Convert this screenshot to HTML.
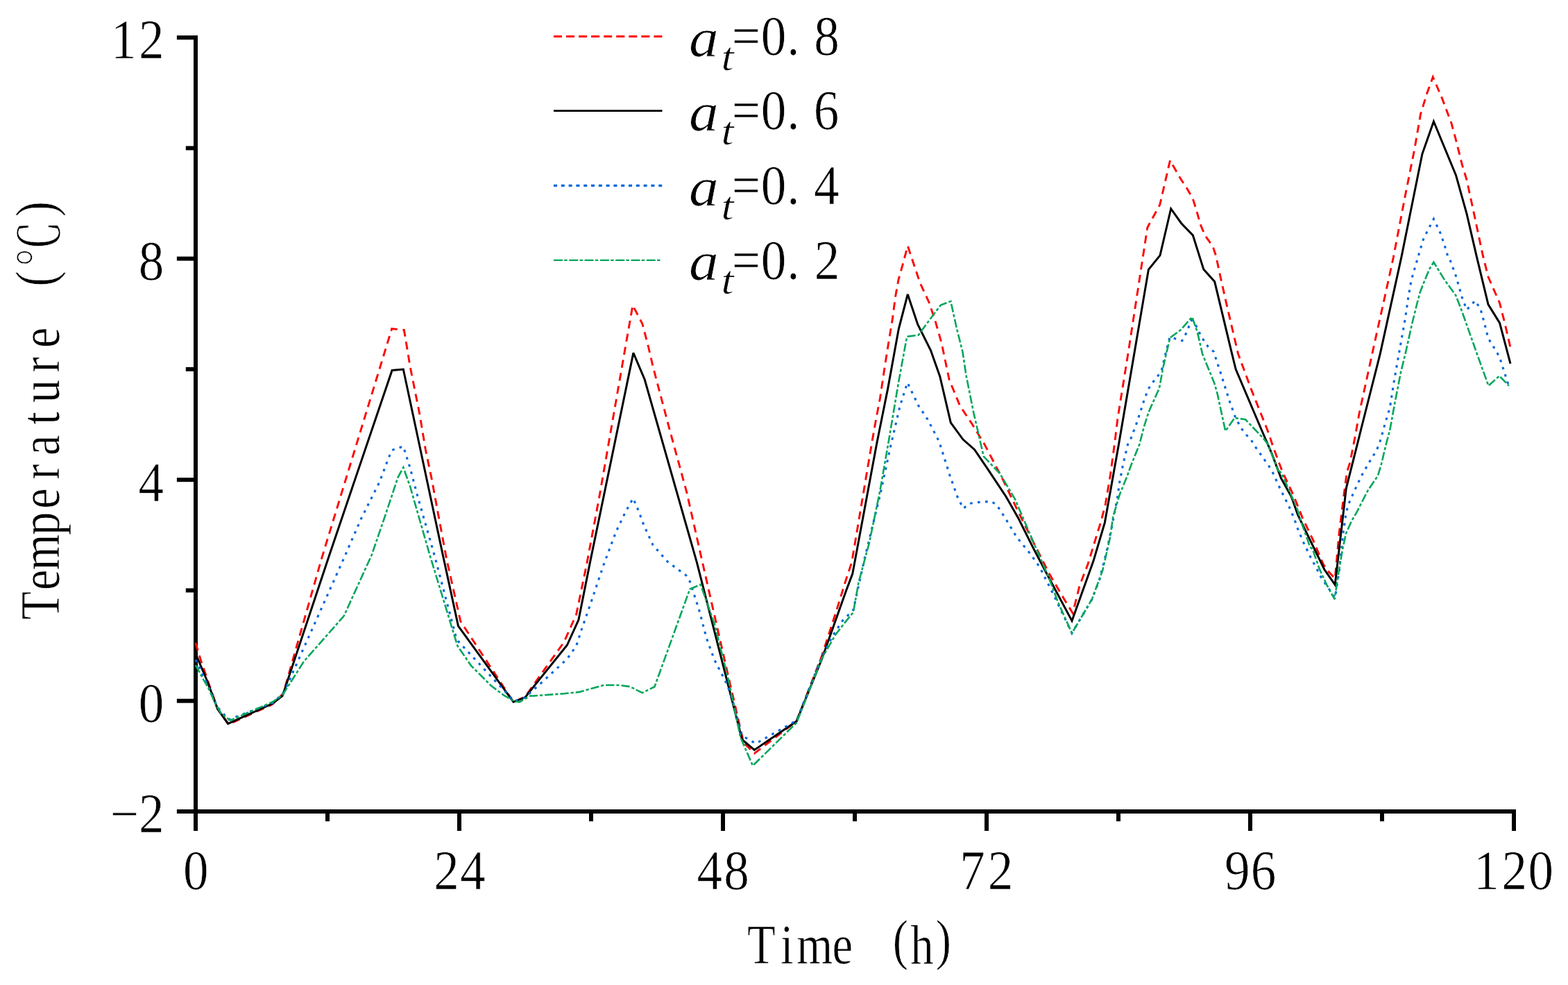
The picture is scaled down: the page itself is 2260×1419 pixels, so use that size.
<!DOCTYPE html>
<html lang="en"><head><meta charset="utf-8"><title>Temperature (℃) – Time (h)</title>
<style>html,body{margin:0;padding:0;background:#fff}body{width:2260px;height:1419px;overflow:hidden}svg{display:block}text{fill:#000;white-space:pre;stroke:#fff;stroke-width:0.7px;stroke-linejoin:round}</style></head><body>
<svg width="2260" height="1419" viewBox="0 0 2260 1419" font-family="&quot;Liberation Serif&quot;, &quot;Noto Serif CJK SC&quot;, serif">
<rect width="2260" height="1419" fill="#fff"/>
<g><text transform="scale(0.92 1)" x="174 217.5" y="84.5" font-size="79.5" aria-label="12">12</text>
<text transform="scale(0.92 1)" x="217.1" y="403" font-size="79.5" aria-label="8">8</text>
<text transform="scale(0.92 1)" x="216.9" y="721.6" font-size="79.5" aria-label="4">4</text>
<text transform="scale(0.92 1)" x="217.1" y="1040.1" font-size="79.5" aria-label="0">0</text>
<text transform="scale(0.92 1)" x="172.5 217.5" y="1199.4" font-size="79.5" aria-label="−2">−2</text>
<text transform="scale(0.92 1)" x="287" y="1280.8" font-size="79.5" aria-label="0">0</text>
<text transform="scale(0.92 1)" x="679.5 720.8" y="1280.8" font-size="79.5" aria-label="24">24</text>
<text transform="scale(0.92 1)" x="1091.9 1134" y="1280.8" font-size="79.5" aria-label="48">48</text>
<text transform="scale(0.92 1)" x="1503.6 1547.5" y="1280.8" font-size="79.5" aria-label="72">72</text>
<text transform="scale(0.92 1)" x="1918.5 1959.6" y="1280.8" font-size="79.5" aria-label="96">96</text>
<text transform="scale(0.92 1)" x="2309.1 2352.6 2394.1" y="1280.8" font-size="79.5" aria-label="120">120</text></g>
<text transform="scale(0.84 1)" x="1282 1339.4 1367.1 1428.1 1467.1 1531.9 1562.3 1605.7" y="1387.8 1387.8 1387.8 1387.8 1387.8 1380.8 1387.8 1380.8" font-size="79.5" aria-label="Time (h)">Time (h)</text>
<g transform="translate(84.9 891.7) rotate(-90)"><text transform="scale(0.84 1)" x="-1.4 49.3 83.7 143.7 189 239.1 280.2 333.4 370.9 422.9 464.7 505.5 570.3 603.6 689.9" y="0 0 0 0 0 0 0 0 0 0 0 0 -7 0 -7" font-size="79.5" aria-label="Temperature (℃)">Temperature (℃)</text></g>
<g><path d="M798 52.4 H954.5" fill="none" stroke="#ff0000" stroke-width="3" stroke-dasharray="12 6.05"/>
<text transform="scale(0.92 1)" font-size="79.5" aria-label="a t =0.8"><tspan x="1079.3" y="80.7" font-style="italic" font-size="79" textLength="46.4" lengthAdjust="spacingAndGlyphs">a</tspan><tspan x="1129.9" y="100.7" font-style="italic" font-size="57" textLength="19.8" lengthAdjust="spacingAndGlyphs">t</tspan><tspan y="79.2" x="1146.5 1192.1 1233 1275.2">=0.8</tspan></text>
<path d="M798 159.6 H954.5" fill="none" stroke="#000000" stroke-width="2.8"/>
<text transform="scale(0.92 1)" font-size="79.5" aria-label="a t =0.6"><tspan x="1079.3" y="187.9" font-style="italic" font-size="79" textLength="46.4" lengthAdjust="spacingAndGlyphs">a</tspan><tspan x="1129.9" y="207.9" font-style="italic" font-size="57" textLength="19.8" lengthAdjust="spacingAndGlyphs">t</tspan><tspan y="186.4" x="1146.5 1192.1 1233 1274.7">=0.6</tspan></text>
<path d="M798 267.4 H954.5" fill="none" stroke="#0066dd" stroke-width="3.1" stroke-dasharray="5 5.8"/>
<text transform="scale(0.92 1)" font-size="79.5" aria-label="a t =0.4"><tspan x="1079.3" y="295.7" font-style="italic" font-size="79" textLength="46.4" lengthAdjust="spacingAndGlyphs">a</tspan><tspan x="1129.9" y="315.7" font-style="italic" font-size="57" textLength="19.8" lengthAdjust="spacingAndGlyphs">t</tspan><tspan y="294.2" x="1146.5 1192.1 1233 1275.1">=0.4</tspan></text>
<path d="M798 374.9 H952.2" fill="none" stroke="#00a65a" stroke-width="2.2" stroke-dasharray="13 2.2 4.5 2.6"/>
<text transform="scale(0.92 1)" font-size="79.5" aria-label="a t =0.2"><tspan x="1079.3" y="403.2" font-style="italic" font-size="79" textLength="46.4" lengthAdjust="spacingAndGlyphs">a</tspan><tspan x="1129.9" y="423.2" font-style="italic" font-size="57" textLength="19.8" lengthAdjust="spacingAndGlyphs">t</tspan><tspan y="401.7" x="1146.5 1192.1 1233 1275.7">=0.2</tspan></text></g>
<g stroke="#000" stroke-width="6.0" fill="none" stroke-linecap="butt"><path d="M282.0 51.1 V1197.0" /><path d="M254.9 1169.0 H2185.0" /><path d="M254.9 54.1 H282.0"/><path d="M254.9 372.6 H282.0"/><path d="M254.9 691.2 H282.0"/><path d="M254.9 1009.7 H282.0"/><path d="M267.8 213.4 H282.0"/><path d="M267.8 531.9 H282.0"/><path d="M267.8 850.5 H282.0"/><path d="M662.0 1169.0 V1197.0"/><path d="M1042.0 1169.0 V1197.0"/><path d="M1422.0 1169.0 V1197.0"/><path d="M1802.0 1169.0 V1197.0"/><path d="M2182.0 1169.0 V1197.0"/><path d="M472.0 1169.0 V1183.2"/><path d="M852.0 1169.0 V1183.2"/><path d="M1232.0 1169.0 V1183.2"/><path d="M1612.0 1169.0 V1183.2"/><path d="M1992.0 1169.0 V1183.2"/></g>
<g stroke-linejoin="miter" stroke-miterlimit="3"><path d="M281.9 926.1 L289.9 952.7 L313.6 1021.2 L329.7 1043.4 L392.8 1014.6 L408.3 999.1 L463.6 804.4 L564.7 473.6 L582.4 475.4 L591.2 528.5 L604.5 594.9 L613.4 648 L622.2 690 L632.2 744.2 L643.9 806.6 L663.8 895.1 L740 1011.3 L756.9 1003.6 L812.9 925 L830.6 885.2 L846.1 810.4 L864.9 709.7 L901.4 500 L912 439.8 L925.8 466.4 L934.6 500 L941.2 528.3 L963.4 612.4 L989.9 709.7 L1011.5 806 L1049.6 973.7 L1071.8 1070 L1087.3 1085.4 L1148.1 1039 L1184.4 945.3 L1204.5 883 L1219.9 833.4 L1227.6 810.4 L1256.3 639.9 L1263 602.1 L1268.5 573.4 L1275.1 529.1 L1280.7 493.7 L1286.2 460.5 L1290.6 427.3 L1295 403 L1300.6 383.1 L1308.3 354.3 L1326 407.4 L1339.3 436.2 L1348.1 462.7 L1357 493.7 L1368.1 546.8 L1383.5 584.4 L1401.2 611 L1418.9 639.9 L1445.5 690.9 L1467.6 737.3 L1489.7 781.6 L1511.9 825.8 L1534 863.5 L1546.2 883.4 L1556.1 843.5 L1568 812.8 L1582.1 766.6 L1587.1 750.6 L1593.2 726.8 L1600.4 684.2 L1606.4 639.9 L1610.9 602.9 L1626.4 506.5 L1653.8 327.8 L1671.7 295.1 L1686.5 231 L1692.7 242 L1701.6 257.5 L1710.4 270.8 L1719.3 286.3 L1724.8 304 L1730.4 323.9 L1737 339.4 L1748.1 354.9 L1752.5 368.1 L1759.1 399.1 L1768 438.9 L1776.8 476.5 L1784.6 509.9 L1803.4 560.9 L1825.5 616.2 L1828.6 624.4 L1835.2 644.3 L1848.1 678.9 L1864 712.9 L1869.7 726.8 L1877.3 746.1 L1892.3 777.4 L1907.2 812.8 L1914.9 823.5 L1924.2 833.5 L1930.4 766 L1937 712.9 L1941.4 679.7 L1945.8 666.5 L1953.6 626.6 L1959.1 595.7 L1981.2 493.9 L1994.5 434.2 L2008.3 371 L2025.5 281.2 L2038.8 214.9 L2047.6 164 L2056.5 135.2 L2065.3 110.9 L2078.6 141.9 L2091.9 177.3 L2098.5 201.6 L2107.3 237 L2114 259.1 L2125 310 L2137.2 367.7 L2145 398.8 L2161.5 436.4 L2169.3 467.3 L2177 500.5" fill="none" stroke="#ff0000" stroke-width="2.9" stroke-dasharray="11.4 7.7"/>
<path d="M281.9 941.6 L297.9 979.2 L313.6 1021.2 L328.6 1042.7 L392.8 1013.5 L407.2 1002.4 L474.6 800 L565.1 533.4 L581.3 532 L627.7 749.7 L638.4 800 L660.5 901.8 L740 1011.3 L756.9 1004.7 L770 988.1 L817.3 929.5 L833.9 893 L850.5 809.9 L912.9 508.4 L929.1 546.5 L1004.3 809.9 L1069.6 1065.5 L1087.3 1080.4 L1148.1 1039 L1184.4 949.7 L1220 849.8 L1228.7 826.9 L1263.5 639.9 L1279.6 560.1 L1295.3 473.8 L1308.3 424 L1322.7 467.2 L1341.5 504.8 L1354.8 542.4 L1370.3 608.8 L1388 633.1 L1404.6 647.7 L1423.4 675.4 L1449.9 715.2 L1467.6 746.2 L1489.7 790.4 L1511.9 832.5 L1545 894.4 L1576 808.1 L1592.3 753.1 L1612.5 639.9 L1634.7 509.9 L1655.4 388.3 L1672 367.9 L1687.7 300.7 L1702.7 321.7 L1719.3 338.9 L1734.8 388.1 L1750.7 405.8 L1775.7 509.9 L1781.2 532.1 L1818.6 620 L1833 653.2 L1846.4 688.9 L1861.3 715.4 L1870.6 741.7 L1908.9 820.5 L1924.2 842.3 L1940.3 703.3 L1955.8 642.1 L1961.3 620 L1989.2 509.9 L2020 369.9 L2049.9 221.8 L2066.4 175 L2098.5 252.5 L2114 307.8 L2128.4 369.9 L2145 438.6 L2161.5 465.1 L2177 523.8" fill="none" stroke="#000000" stroke-width="3"/>
<path d="M281.9 950.4 L297.7 983.6 L313.6 1019 L329.7 1036.7 L393.9 1012.4 L409.4 996.9 L494.6 806.6 L520.4 747.5 L547 694.4 L560.3 659 L565.1 648.4 L581.3 643.1 L591.2 674.5 L602.3 716.5 L611.2 747.5 L626.2 800 L657.2 917.3 L660.5 923.9 L741.1 1010.2 L756.9 1004.7 L786.4 978.1 L817.3 949.4 L830.6 930.6 L837.3 909.6 L852.7 865.3 L870.4 812.6 L888.1 765.5 L901.4 737.8 L912.5 717.9 L920.2 735.6 L928 756.6 L941.2 785.4 L962.3 809.3 L988.8 828.8 L994.3 837.7 L1007.6 878.6 L1018.7 920.6 L1029.7 950.5 L1047.4 984.8 L1054.1 1002.5 L1069.6 1060 L1089.5 1071.1 L1148.1 1037.9 L1184.5 946.2 L1200.1 916.2 L1214.4 894.2 L1229.8 878.9 L1246.4 803.7 L1268.5 713 L1284 641 L1297.3 584.4 L1307.9 551.2 L1323.8 584.4 L1337.1 604.3 L1352.6 634.2 L1355.9 643.3 L1369.2 685.4 L1380.2 716.3 L1388.4 732.5 L1397.9 725.2 L1410.1 723.6 L1428.9 722.3 L1436.6 727.4 L1448.8 746.2 L1465.4 773.8 L1485.3 798.2 L1498.6 817 L1518.5 856.8 L1545 912.1 L1573.8 863.5 L1584.9 834.7 L1595.9 790.4 L1603.4 754.2 L1610.6 716.6 L1613.6 695.3 L1618.9 667.9 L1625.5 640.3 L1629.1 634.2 L1638.8 608.1 L1649.9 573.8 L1655.1 560.9 L1659 553.5 L1666.2 545.4 L1674.2 533.9 L1679.6 511.1 L1686.1 485.4 L1703.8 490.9 L1710.4 478.8 L1717.1 461.1 L1725.9 472.1 L1730.4 483.2 L1741.4 499.8 L1749.2 506.4 L1752.5 516.6 L1759.1 536.5 L1772.4 578.6 L1781.2 602.9 L1790.1 618.4 L1796.5 626.6 L1803.4 633.9 L1809.8 644.3 L1816.6 653.8 L1828.6 670.9 L1834.3 680.4 L1843 699.6 L1847.6 709.1 L1858 729.8 L1866.2 749.4 L1869.7 760 L1877.9 779.6 L1887.2 799.2 L1891.9 808.7 L1897.4 817.5 L1901.6 828 L1924.2 861.2 L1930.4 821.3 L1935.9 768.2 L1940.1 739.5 L1943.6 726.2 L1952.5 706.3 L1961.8 686.4 L1966.9 677.5 L1972.4 667.6 L1983.5 649.9 L1987.9 639.9 L1991.2 628.8 L1996.7 608.9 L2003.4 586.8 L2010 544.8 L2019.1 493.9 L2025.5 458.5 L2029.9 427.5 L2034.3 403.2 L2044.3 368.8 L2052 343.2 L2066.4 315.5 L2076.4 336.5 L2083 356.5 L2086.3 367.5 L2090.8 376.6 L2098.5 397.7 L2107.3 428.6 L2114 446.3 L2126.2 433.1 L2133.9 445.2 L2139.4 465.1 L2145 487.3 L2156 505 L2161.5 514.9 L2168.2 535.9 L2175.9 560.3" fill="none" stroke="#0066dd" stroke-width="3.1" stroke-dasharray="3.6 7.4"/>
<path d="M281.9 958.2 L292.1 977 L301 992.5 L309.8 1012.4 L318.7 1027.9 L331.9 1037.8 L392.8 1011.3 L407.2 1001.3 L438.1 952.7 L495.7 887.4 L535.5 800 L553.6 747.5 L564.7 714.3 L573.5 687.8 L581.3 673.4 L591.2 701.1 L604.5 747.5 L619.6 800 L659.4 930.5 L679.3 959.3 L708.1 988.1 L725.8 1001.3 L741.2 1010.2 L748.8 1011.3 L764.2 1002.5 L770 1002.4 L812.9 999.2 L835 996.9 L870.4 987 L892.6 987 L908.1 989.2 L925.8 998.1 L943.5 989.2 L994.3 848.7 L1009.8 842.1 L1029.7 898.5 L1049.6 978.1 L1067.3 1062.2 L1085 1103.1 L1148.1 1041.2 L1184.5 948.5 L1204.3 914.3 L1220 894.1 L1229.8 882.3 L1237.5 839.1 L1253 781.6 L1268.5 706.4 L1280.1 639.9 L1295 551.2 L1307.2 484.9 L1323.8 482.7 L1340 460.5 L1355.9 439.5 L1370.3 434 L1379.1 473.8 L1387.5 507 L1392.4 540.2 L1403.5 595.5 L1414 641 L1417.8 657.7 L1441.1 682 L1463.2 719.6 L1489.7 781.6 L1511.9 832.5 L1525.1 867.9 L1545 912.1 L1573.8 863.5 L1589.3 821.4 L1600.4 772.7 L1604.2 744.5 L1613.6 713 L1624.2 687 L1629.1 673.2 L1642.4 639.9 L1648.5 616.2 L1653.5 599.9 L1657.3 589.6 L1670.9 559.4 L1676.4 529.5 L1681.1 508.8 L1686.5 486.5 L1701.6 475.4 L1718.2 456.6 L1725.9 478.8 L1733.1 509.9 L1750.3 552 L1754.7 567.5 L1766.2 620.9 L1779.5 602.1 L1795 604.3 L1814.2 624.4 L1821.1 631.7 L1827.5 639.9 L1841.9 677.5 L1846.9 681.2 L1861.8 715.1 L1869.7 733.5 L1875 750.5 L1888.3 788.1 L1891.9 791 L1901.2 818.3 L1912.7 843.5 L1923.7 863.4 L1928.1 832.4 L1934.8 792.6 L1940.1 768.2 L1948.1 750.5 L1955.8 737.3 L1971.7 706.3 L1986 685.3 L1991.2 667.6 L1997.8 639.9 L2003.4 618.9 L2010 582.4 L2019.1 535.9 L2025.6 509.6 L2035.2 466.4 L2043.2 434.2 L2046.7 421.2 L2051.9 407.8 L2060 388.1 L2066.4 377.7 L2082.1 403.2 L2098.1 425.3 L2105.1 443 L2113.8 467.3 L2129.5 511.6 L2145.4 555.8 L2161.1 541.5 L2174.8 555.8" fill="none" stroke="#00a65a" stroke-width="2.6" stroke-dasharray="12.2 3 4.2 3"/></g>
</svg></body></html>
